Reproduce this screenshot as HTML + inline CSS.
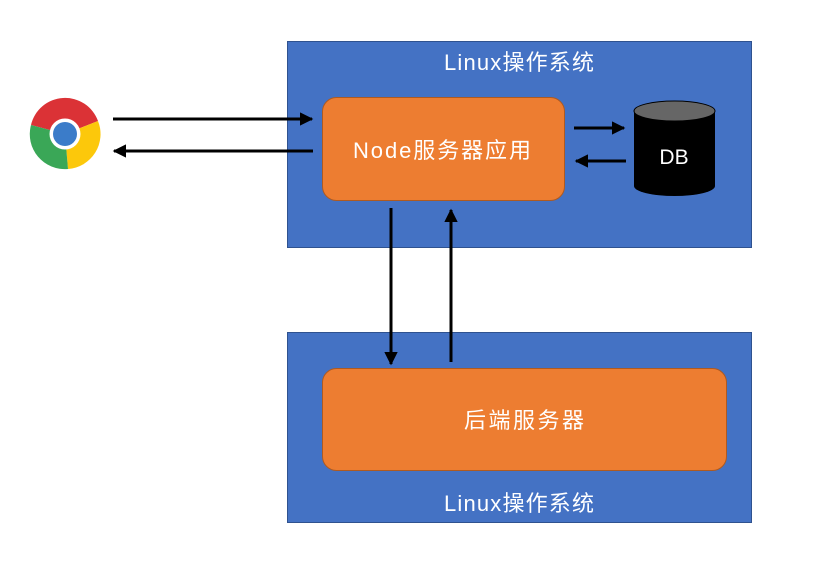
<!DOCTYPE html>
<html><head><meta charset="utf-8"><style>
body{margin:0;background:#fff;}
svg text{font-family:"Liberation Sans","Noto Sans CJK SC",sans-serif;}
</style></head><body>
<svg width="817" height="565" viewBox="0 0 817 565" xmlns="http://www.w3.org/2000/svg">
<defs>
<marker id="a" viewBox="0 0 10 10" refX="9" refY="5" markerWidth="4.5" markerHeight="4.5" orient="auto"><path d="M0,0 L10,5 L0,10 z" fill="#000"/></marker>
</defs>
<rect x="287.5" y="41.5" width="464" height="206" fill="#4472c4" stroke="#2f528f"/>
<rect x="287.5" y="332.5" width="464" height="190" fill="#4472c4" stroke="#2f528f"/>
<text x="519" y="70" font-size="22" fill="#fff" text-anchor="middle" textLength="150">Linux操作系统</text>
<text x="519" y="511" font-size="22" fill="#fff" text-anchor="middle" textLength="150">Linux操作系统</text>
<rect x="322.5" y="97.5" width="242" height="103" rx="14" fill="#ed7d31" stroke="#ae5a21"/>
<text x="442" y="158" font-size="22" fill="#fff" text-anchor="middle" textLength="178">Node服务器应用</text>
<rect x="322.5" y="368.5" width="404" height="102" rx="14" fill="#ed7d31" stroke="#ae5a21"/>
<text x="524" y="428" font-size="22" fill="#fff" text-anchor="middle" textLength="120">后端服务器</text>
<path d="M634,111 L634,186 A40.5,10 0 0 0 715,186 L715,111 Z" fill="#000"/>
<ellipse cx="674.5" cy="111" rx="40.5" ry="10" fill="#666" stroke="#000"/>
<text x="674" y="164" font-size="21" fill="#fff" text-anchor="middle">DB</text>
<g stroke="#000" stroke-width="3" fill="none" marker-end="url(#a)">
<line x1="113" y1="119" x2="312" y2="119"/>
<line x1="313" y1="151" x2="114" y2="151"/>
<line x1="574" y1="128" x2="624" y2="128"/>
<line x1="626" y1="161" x2="576" y2="161"/>
<line x1="391" y1="208" x2="391" y2="364"/>
<line x1="451" y1="362" x2="451" y2="210"/>
</g>
<g>
<path d="M65,134 L31,125 A35,35 0 0 1 98,121 Z" fill="#db3236"/>
<path d="M65,134 L98,121 A35,35 0 0 1 68,169 Z" fill="#fcc80b"/>
<path d="M65,134 L68,169 A35,35 0 0 1 31,125 Z" fill="#3aa757"/>
<circle cx="65" cy="134" r="15.5" fill="#fff"/>
<circle cx="65" cy="134" r="12" fill="#3b7cc9"/>
</g>
</svg>
</body></html>
